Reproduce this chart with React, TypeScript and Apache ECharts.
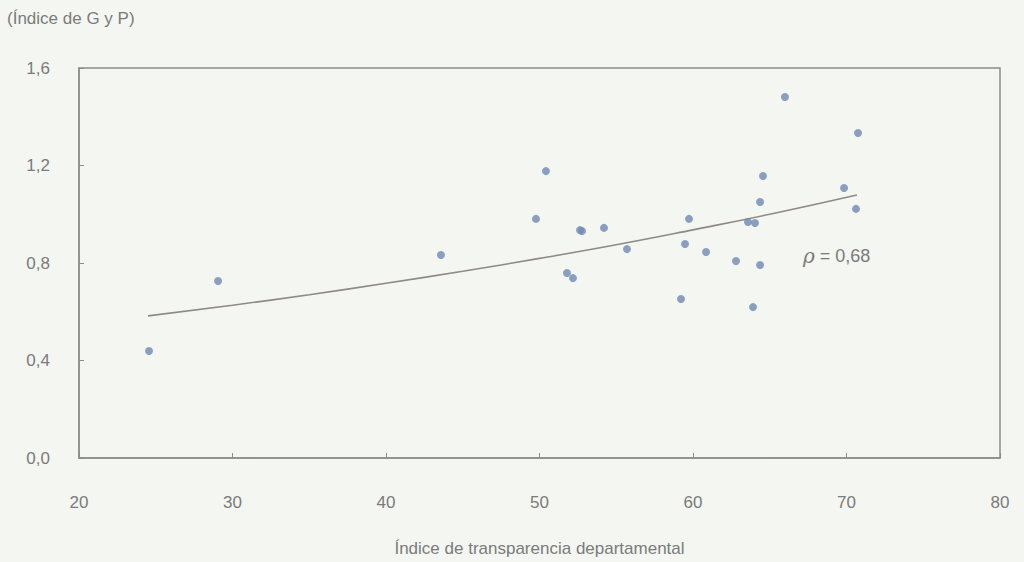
import React, { useEffect, useRef } from "react";
import * as echarts from "echarts";

// Scatter points: [índice de transparencia, índice de G y P]
const points: [number, number][] = [
  [24.56, 0.439],
  [29.06, 0.726],
  [43.58, 0.833],
  [49.77, 0.981],
  [50.42, 1.177],
  [51.79, 0.759],
  [52.18, 0.738],
  [52.64, 0.935],
  [52.77, 0.931],
  [54.2, 0.944],
  [55.7, 0.857],
  [59.22, 0.652],
  [59.48, 0.878],
  [59.74, 0.981],
  [60.85, 0.845],
  [62.8, 0.808],
  [63.58, 0.968],
  [64.04, 0.964],
  [63.91, 0.619],
  [64.37, 1.05],
  [64.56, 1.157],
  [64.37, 0.792],
  [65.99, 1.481],
  [69.84, 1.108],
  [70.62, 1.022],
  [70.75, 1.333],
];

// Trend line
const trendX = [24.5, 30, 35, 40, 45, 50, 55, 60, 65, 70.68];
const trendY = [0.583, 0.627, 0.67, 0.717, 0.766, 0.819, 0.875, 0.936, 1.0, 1.079];

const xTicks = [20, 30, 40, 50, 60, 70, 80];
const yTicks = [0, 0.4, 0.8, 1.2, 1.6];

const yTitle = "(Índice de G y P)";
const xTitle = "Índice de transparencia departamental";
const rhoValue = "0,68";

const FONT = "'Liberation Sans Narrow', 'Liberation Sans', sans-serif";
const TEXT = "#7b7b7b";
const AXIS = "#8c8c8c";

export default function App() {
  const ref = useRef<HTMLDivElement>(null);
  useEffect(() => {
    if (!ref.current) return;
    const chart = echarts.init(ref.current, undefined, { renderer: "svg" });
    const trend = trendX.map((x, i) => [x, trendY[i]]);
    chart.setOption({
      animation: false,
      backgroundColor: "#f4f6f2",
      textStyle: { fontFamily: FONT },
      grid: {
        left: 79,
        right: 24,
        top: 68,
        bottom: 104,
        show: true,
        borderColor: AXIS,
        borderWidth: 1.5,
        backgroundColor: "transparent",
      },
      xAxis: {
        type: "value",
        min: xTicks[0],
        max: xTicks[xTicks.length - 1],
        interval: 10,
        name: xTitle,
        nameLocation: "middle",
        nameGap: 82,
        nameTextStyle: { color: TEXT, fontSize: 17, fontFamily: FONT },
        axisLine: { show: true, lineStyle: { color: AXIS, width: 1.5 } },
        axisTick: { show: true, inside: true, length: 5, lineStyle: { color: AXIS } },
        axisLabel: { color: TEXT, fontSize: 17, margin: 36, fontFamily: FONT },
        splitLine: { show: false },
      },
      yAxis: {
        type: "value",
        min: yTicks[0],
        max: yTicks[yTicks.length - 1],
        interval: 0.4,
        axisLine: { show: true, lineStyle: { color: AXIS, width: 1.5 } },
        axisTick: { show: true, inside: true, length: 5, lineStyle: { color: AXIS } },
        axisLabel: {
          color: TEXT,
          fontSize: 17,
          margin: 29,
          fontFamily: FONT,
          formatter: (v: number) => v.toFixed(1).replace(".", ","),
        },
        splitLine: { show: false },
      },
      graphic: [
        {
          type: "text",
          left: 7,
          top: 10,
          style: { text: yTitle, fill: TEXT, font: `17px ${FONT}` },
        },
        {
          type: "text",
          left: 803,
          top: 246,
          style: {
            text: "{r|ρ} = " + rhoValue,
            fill: TEXT,
            font: `18px ${FONT}`,
            rich: {
              r: { fontStyle: "italic", fontSize: 20, fill: TEXT, fontFamily: "'DejaVu Serif', serif" },
            },
          },
        },
      ],
      series: [
        {
          type: "line",
          data: trend,
          smooth: true,
          showSymbol: false,
          lineStyle: { color: "#8f8a84", width: 1.6 },
          z: 2,
        },
        {
          type: "scatter",
          data: points,
          symbol: "circle",
          symbolSize: 8,
          itemStyle: { color: "#6f8ab3" },
          z: 3,
        },
      ],
    });
    return () => chart.dispose();
  }, []);
  return (
    <div
      ref={ref}
      style={{ position: "fixed", left: 0, top: 0, width: 1024, height: 562 }}
    />
  );
}
